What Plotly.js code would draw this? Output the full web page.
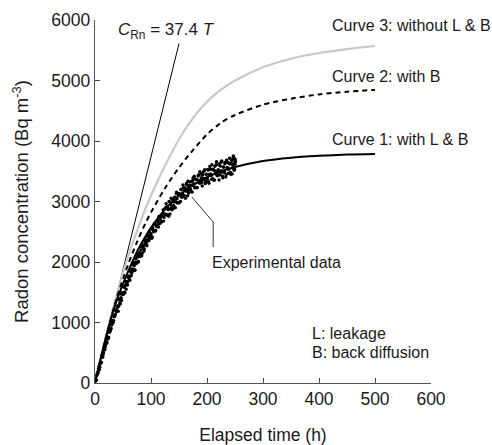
<!DOCTYPE html>
<html>
<head>
<meta charset="utf-8">
<script src="https://cdn.plot.ly/plotly-3.0.1.min.js"></script>
<style>html,body{margin:0;padding:0;background:#fff;}#chart{width:492px;height:445px;}</style>
</head>
<body>
<div id="chart"></div>
<script>
// Model curves
var curveTime  = [0, 10, 20, 30, 40, 50, 60, 75, 90, 100, 125, 150, 175, 200, 225, 250, 300, 350, 400, 450, 500];
var curve1Conc = [0, 400, 770, 1110, 1400, 1640, 1860, 2170, 2420, 2570, 2870, 3100, 3270, 3400, 3500, 3570, 3670, 3725, 3755, 3775, 3785];
var curve2Conc = [0, 390, 770, 1120, 1440, 1720, 1980, 2330, 2640, 2820, 3220, 3560, 3850, 4110, 4300, 4430, 4600, 4700, 4770, 4815, 4845];
var curve3Conc = [0, 400, 790, 1160, 1500, 1820, 2120, 2510, 2880, 3100, 3590, 4030, 4380, 4650, 4850, 5000, 5220, 5360, 5455, 5520, 5570];

// Straight line C = 37.4 T
var lineTime = [0, 150];
var lineConc = [0, 5610];

var expTime = [1,2.5,4,5.5,7,8.5,10,11.5,13,14.5,16,17.5,19,20.5,22,23.5,25,26.5,28,29.5,
  31,32.5,34,35.5,37,38.5,40,41.5,43,44.5,46,47.5,49,50.5,52,53.5,55,56.5,58,59.5,
  61,62.5,64,65.5,67,68.5,70,71.5,73,74.5,76,77.5,79,80.5,82,83.5,85,86.5,88,89.5,
  91,92.5,94,95.5,97,98.5,100,101.5,103,104.5,106,107.5,109,110.5,112,113.5,115,116.5,118,119.5,
  121,122.5,124,125.5,127,128.5,130,131.5,133,134.5,136,137.5,139,140.5,142,143.5,145,146.5,148,149.5,
  151,152.5,154,155.5,157,158.5,160,161.5,163,164.5,166,167.5,169,170.5,172,173.5,175,176.5,178,179.5,
  181,182.5,184,185.5,187,188.5,190,191.5,193,194.5,196,197.5,199,200.5,202,203.5,205,206.5,208,209.5,
  211,212.5,214,215.5,217,218.5,220,221.5,223,224.5,226,227.5,229,230.5,232,233.5,235,236.5,238,239.5,
  241,242.5,244,245.5,247,248.5,250,246,248,250,251,249,247];
var expConc = [45,51,156,174,271,261,334,340,457,467,564,550,635,659,740,729,842,855,876,961,
  1000,998,1096,1106,1196,1178,1249,1188,1378,1326,1471,1365,1483,1466,1581,1490,1677,1640,1620,1745,
  1768,1701,1858,1818,1957,1854,1939,1869,2050,1989,2125,2010,2119,2093,2201,2102,2282,2237,2210,2327,
  2343,2268,2418,2370,2502,2391,2469,2393,2568,2501,2631,2510,2613,2581,2683,2578,2752,2701,2668,2779,
  2801,2676,2876,2790,2964,2787,2883,2757,2994,2881,3053,2862,2995,2933,3065,2898,3134,3045,2982,3127,
  3128,2999,3194,3104,3273,3092,3183,3052,3285,3167,3335,3139,3268,3202,3329,3158,3389,3296,3228,3369,
  3365,3231,3422,3327,3492,3306,3393,3258,3486,3364,3527,3327,3451,3368,3518,3300,3578,3456,3366,3532,
  3522,3352,3582,3460,3658,3424,3526,3355,3631,3476,3672,3421,3569,3478,3626,3407,3683,3560,3468,3633,
  3621,3450,3678,3555,3751,3516,3616,3700,3720,3700,3660,3640,3730];

// Experimental data, part 2 (interleaved readings)
var expTime2 = [1.75,3.25,4.75,6.25,7.75,9.25,10.75,12.25,13.75,15.25,16.75,18.25,19.75,21.25,22.75,24.25,25.75,27.25,28.75,30.25,
  31.75,33.25,34.75,36.25,37.75,39.25,40.75,42.25,43.75,45.25,46.75,48.25,49.75,51.25,52.75,54.25,55.75,57.25,58.75,60.25,
  61.75,63.25,64.75,66.25,67.75,69.25,70.75,72.25,73.75,75.25,76.75,78.25,79.75,81.25,82.75,84.25,85.75,87.25,88.75,90.25,
  91.75,93.25,94.75,96.25,97.75,99.25,100.75,102.25,103.75,105.25,106.75,108.25,109.75,111.25,112.75,114.25,115.75,117.25,118.75,120.25,
  121.75,123.25,124.75,126.25,127.75,129.25,130.75,132.25,133.75,135.25,136.75,138.25,139.75,141.25,142.75,144.25,145.75,147.25,148.75,150.25,
  151.75,153.25,154.75,156.25,157.75,159.25,160.75,162.25,163.75,165.25,166.75,168.25,169.75,171.25,172.75,174.25,175.75,177.25,178.75,180.25,
  181.75,183.25,184.75,186.25,187.75,189.25,190.75,192.25,193.75,195.25,196.75,198.25,199.75,201.25,202.75,204.25,205.75,207.25,208.75,210.25,
  211.75,213.25,214.75,216.25,217.75,219.25,220.75,222.25,223.75,225.25,226.75,228.25,229.75,231.25,232.75,234.25,235.75,237.25,238.75,240.25,
  241.75,243.25,244.75,246.25,247.75,249.25];
var expConc2 = [38,123,153,238,220,313,343,428,426,503,573,594,688,674,755,756,837,906,907,963,
  1033,1031,1109,1131,1209,1183,1277,1269,1388,1308,1409,1491,1466,1600,1499,1615,1550,1666,1754,1689,
  1748,1842,1775,1887,1874,1986,1863,1991,1974,2084,1995,2087,2160,2125,2251,2143,2251,2179,2287,2367,
  2292,2343,2430,2355,2460,2439,2543,2413,2534,2512,2615,2521,2606,2673,2631,2751,2637,2739,2661,2766,
  2862,2737,2794,2903,2778,2913,2865,2999,2794,2954,2905,3039,2886,2993,3073,2997,3155,2975,3107,2978,
  3109,3200,3071,3123,3228,3098,3228,3175,3304,3095,3250,3197,3326,3168,3269,3345,3264,3418,3233,3361,
  3227,3353,3440,3306,3354,3454,3319,3443,3386,3510,3297,3447,3390,3531,3329,3447,3533,3427,3609,3375,
  3525,3355,3505,3607,3437,3491,3608,3437,3585,3510,3658,3391,3571,3496,3644,3441,3557,3642,3534,3715,
  3479,3628,3456,3605,3705,3534];

var xTicks = [0, 100, 200, 300, 400, 500, 600];
var yTicks = [0, 1000, 2000, 3000, 4000, 5000, 6000];

var FONT = 'Liberation Sans, Arial, sans-serif';
var TXT = '#1a1a1a';

var traces = [
  {x: lineTime, y: lineConc, mode: 'lines', line: {color: '#000', width: 1}, hoverinfo: 'skip'},
  {x: curveTime, y: curve3Conc, mode: 'lines', line: {color: '#cbc7c4', width: 2.2, shape: 'spline', smoothing: 0.8}},
  {x: curveTime, y: curve2Conc, mode: 'lines', line: {color: '#000', width: 2, dash: '5px,4px', shape: 'spline', smoothing: 0.8}},
  {x: curveTime, y: curve1Conc, mode: 'lines', line: {color: '#000', width: 2, shape: 'spline', smoothing: 0.8}},
  {x: expTime.concat(expTime2), y: expConc.concat(expConc2), mode: 'markers', marker: {color: '#000', size: 3.4}}
];

var annFont = {family: FONT, size: 16, color: TXT};
var layout = {
  width: 492, height: 445,
  margin: {l: 95, r: 61, t: 20, b: 62},
  paper_bgcolor: '#fff', plot_bgcolor: '#fff',
  showlegend: false,
  font: {family: FONT, size: 17.5, color: TXT},
  xaxis: {
    range: [0, 600], tickvals: xTicks, ticktext: xTicks.map(String),
    ticks: 'inside', ticklen: 5, tickcolor: '#444', tickwidth: 1,
    showline: true, linecolor: '#555', linewidth: 1.3,
    showgrid: false, zeroline: false,
    tickfont: {family: FONT, size: 17.5, color: TXT},
    title: {text: 'Elapsed time (h)', font: {family: FONT, size: 17.5, color: TXT}, standoff: 24}
  },
  yaxis: {
    range: [0, 6000], tickvals: yTicks, ticktext: yTicks.map(String),
    ticks: 'inside', ticklen: 5, tickcolor: '#444', tickwidth: 1,
    showline: true, linecolor: '#555', linewidth: 1.3,
    showgrid: false, zeroline: false,
    tickfont: {family: FONT, size: 17.5, color: TXT},
    title: {text: 'Radon concentration (Bq m<sup>-3</sup>)', font: {family: FONT, size: 18.5, color: TXT}, standoff: 17}
  },
  annotations: [
    {x: 37, y: 5820, xref: 'x', yref: 'y', xanchor: 'left', yanchor: 'middle', showarrow: false,
     text: '<i>C</i><sub>Rn</sub> = 37.4 <i>T</i>', font: {family: FONT, size: 17, color: TXT}},
    {x: 420, y: 5917, xref: 'x', yref: 'y', xanchor: 'left', yanchor: 'middle', showarrow: false,
     text: 'Curve 3: without L &amp; B', font: annFont},
    {x: 419, y: 5074, xref: 'x', yref: 'y', xanchor: 'left', yanchor: 'middle', showarrow: false,
     text: 'Curve 2: with B', font: annFont},
    {x: 419, y: 4017, xref: 'x', yref: 'y', xanchor: 'left', yanchor: 'middle', showarrow: false,
     text: 'Curve 1: with L &amp; B', font: annFont},
    {x: 205, y: 2000, xref: 'x', yref: 'y', xanchor: 'left', yanchor: 'middle', showarrow: false,
     text: 'Experimental data', font: annFont},
    {x: 384, y: 825, xref: 'x', yref: 'y', xanchor: 'left', yanchor: 'middle', showarrow: false,
     text: 'L: leakage', font: annFont},
    {x: 384, y: 500, xref: 'x', yref: 'y', xanchor: 'left', yanchor: 'middle', showarrow: false,
     text: 'B: back diffusion', font: annFont}
  ],
  shapes: [
    {type: 'path', xref: 'x', yref: 'y', path: 'M 173 3074 L 211 2661 L 211 2248',
     line: {color: '#333', width: 1}}
  ]
};

Plotly.newPlot('chart', traces, layout, {displayModeBar: false, staticPlot: true});
</script>
</body>
</html>
